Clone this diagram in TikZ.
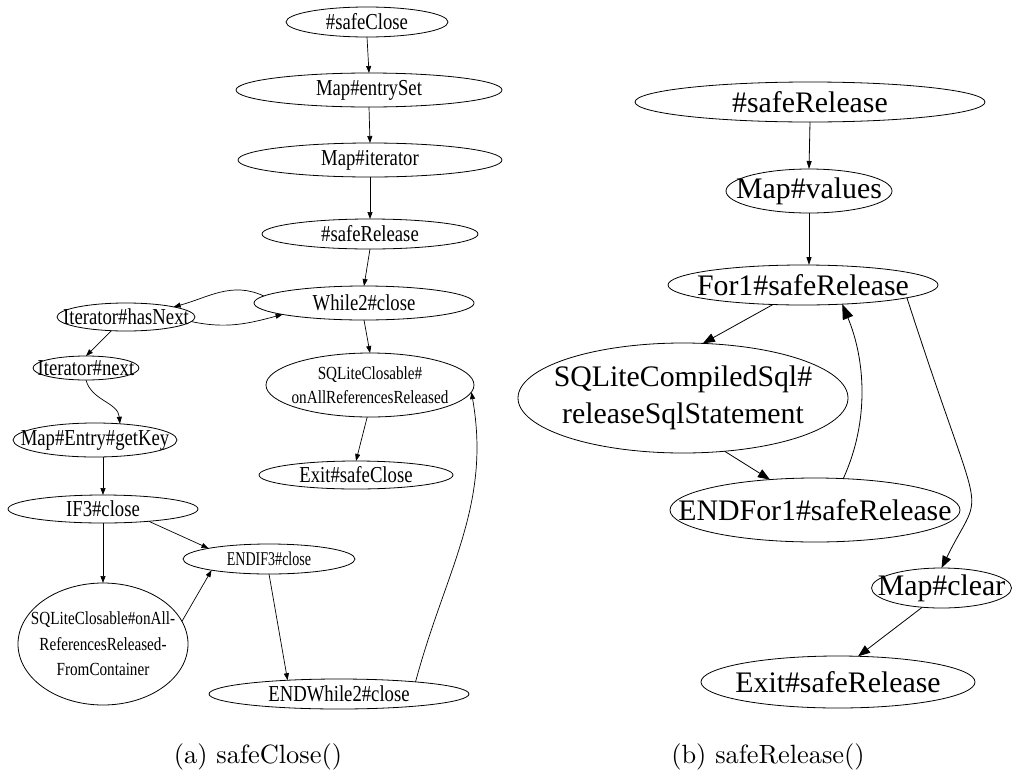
\documentclass[tikz,border=0pt]{standalone}
\usepackage{fontspec}
\usetikzlibrary{shapes.geometric,arrows.meta}
\newfontfamily\lfont{Liberation Serif}[FakeStretch=0.82]
\newfontfamily\lfontn{Liberation Serif}[FakeStretch=0.72]
\newfontfamily\rfont{Liberation Serif}
\newfontfamily\capfont{lmroman10-regular.otf}
\begin{document}
\begin{tikzpicture}[x=1pt,y=-1pt,
  ell/.style={ellipse,draw,line width=0.8pt,inner sep=0pt,outer sep=0pt},
  lt/.style={font={\fontsize{22.8}{24}\lfont},inner sep=0pt},
  ls/.style={font={\fontsize{18.5}{24}\lfont},inner sep=0pt,align=center},
  lsn/.style={font={\fontsize{19.5}{24}\lfontn},inner sep=0pt},
  rt/.style={font={\fontsize{29.8}{37}\rfont},inner sep=0pt,align=center},
  larr/.style={-{Triangle[length=7pt,width=5pt]},line width=0.7pt},
  rarr/.style={-{Triangle[length=12pt,width=9pt]},line width=0.8pt},
  rarrs/.style={-{Triangle[length=8pt,width=5pt]},line width=0.8pt},
  rarrb/.style={-{Triangle[length=15pt,width=11pt]},line width=0.8pt},
  captxt/.style={font={\fontsize{26.4}{30}\capfont},inner sep=0pt}
]
\useasboundingbox (0,0) rectangle (1012,774);
% ---------- left graph ----------
\node[ell,minimum width=162pt,minimum height=30pt,label={[lt]center:\#safeClose}] (sc) at (367,22) {};
\node[ell,minimum width=266pt,minimum height=34pt,label={[lt]center:Map\#entrySet}] (es) at (369,90) {};
\node[ell,minimum width=264pt,minimum height=34pt,label={[lt]center:Map\#iterator}] (it) at (370,160) {};
\node[ell,minimum width=216pt,minimum height=30pt,label={[lt]center:\#safeRelease}] (sr) at (370,234) {};
\node[ell,minimum width=220pt,minimum height=34pt,label={[lt]center:While2\#close}] (wh) at (364,303) {};
\node[ell,minimum width=138pt,minimum height=28pt,label={[lt]center:Iterator\#hasNext}] (hn) at (126,317) {};
\node[ell,minimum width=106pt,minimum height=24pt,label={[lt]center:Iterator\#next}] (nx) at (86,368) {};
\node[ell,minimum width=164pt,minimum height=34pt,label={[lt]center:Map\#Entry\#getKey}] (gk) at (95,440) {};
\node[ell,minimum width=190pt,minimum height=28pt,label={[lt]center:IF3\#close}] (if) at (103,509) {};
\node[ell,minimum width=172pt,minimum height=30pt,label={[lsn]center:ENDIF3\#close}] (ei) at (269,559) {};
\node[ell,minimum width=170pt,minimum height=122pt,label={[ls,font={\fontsize{18.5}{25.5}\lfont}]center:{SQLiteClosable\#onAll-\\ReferencesReleased-\\FromContainer}}] (s2) at (103,644) {};
\node[ell,minimum width=260pt,minimum height=30pt,label={[lt]center:ENDWhile2\#close}] (ew) at (339,694) {};
\node[ell,minimum width=208pt,minimum height=64pt,label={[ls]center:{SQLiteClosable\#\\onAllReferencesReleased}}] (s1) at (370,385) {};
\node[ell,minimum width=194pt,minimum height=28pt,label={[lt]center:Exit\#safeClose}] (ex) at (356,475) {};
\draw[larr] (sc.south) -- (es.north);
\draw[larr] (es.south) -- (it.north);
\draw[larr] (it.south) -- (sr.north);
\draw[larr] (sr.south) -- (wh.north);
\draw[larr] (wh.176) to[out=155,in=15] (hn.12);
\draw[larr] (hn.-4) to[out=-12,in=195] (wh.188);
\draw[larr] (hn.-137) -- (nx.north);
\draw[larr] (nx.south) to[out=-75,in=95] (gk.33);
\draw[larr] (if.north |- gk.south) -- (if.north);
\draw[larr] (if.south) -- (s2.north);
\draw[larr] (if.-15) -- (ei.170);
\draw[larr] (s2.16.5) -- (ei.191);
\draw[larr] (ei.south) -- (ew.165);
\draw[larr] (ew.9) to[out=75,in=-80] (s1.-4);
\draw[larr] (wh.south) -- (s1.north);
\draw[larr] (s1.-95) -- (ex.north);
% ---------- right graph ----------
\node[ell,minimum width=350pt,minimum height=40pt,label={[rt]center:\#safeRelease}] (rsr) at (810,102) {};
\node[ell,minimum width=166pt,minimum height=44pt,label={[rt]center:Map\#values}] (mv) at (809,191) {};
\node[ell,minimum width=270pt,minimum height=40pt,label={[rt]center:For1\#safeRelease}] (f1) at (803,285) {};
\node[ell,minimum width=330pt,minimum height=110pt,label={[rt]center:{SQLiteCompiledSql\#\\releaseSqlStatement}}] (sq) at (683,398) {};
\node[ell,minimum width=290pt,minimum height=64pt,label={[rt]center:ENDFor1\#safeRelease}] (ef) at (815,510) {};
\node[ell,minimum width=140pt,minimum height=40pt,label={[rt]center:Map\#clear}] (mc) at (941.5,588) {};
\node[ell,minimum width=274pt,minimum height=52pt,label={[rt]center:Exit\#safeRelease}] (er) at (838,682) {};
\draw[rarrs] (rsr.south) -- (mv.north);
\draw[rarrs] (mv.south) -- (mv.south |- f1.north);
\draw[rarr] (f1.213) -- (sq.70);
\draw[rarr] (sq.-52) -- (ef.146);
\draw[rarrb] (ef.48) .. controls (870,420) and (865,359) .. (f1.-26);
\draw[rarr] (f1.-7) .. controls (985,540) and (985,480) .. (mc.north);
\draw[rarr] (mc.-135) -- (er.52);
% ---------- captions ----------
\node[captxt] (capa) at (258,757) {(a) safeClose()};
\node[captxt] (capb) at (768,757) {(b) safeRelease()};
\end{tikzpicture}
\end{document}
